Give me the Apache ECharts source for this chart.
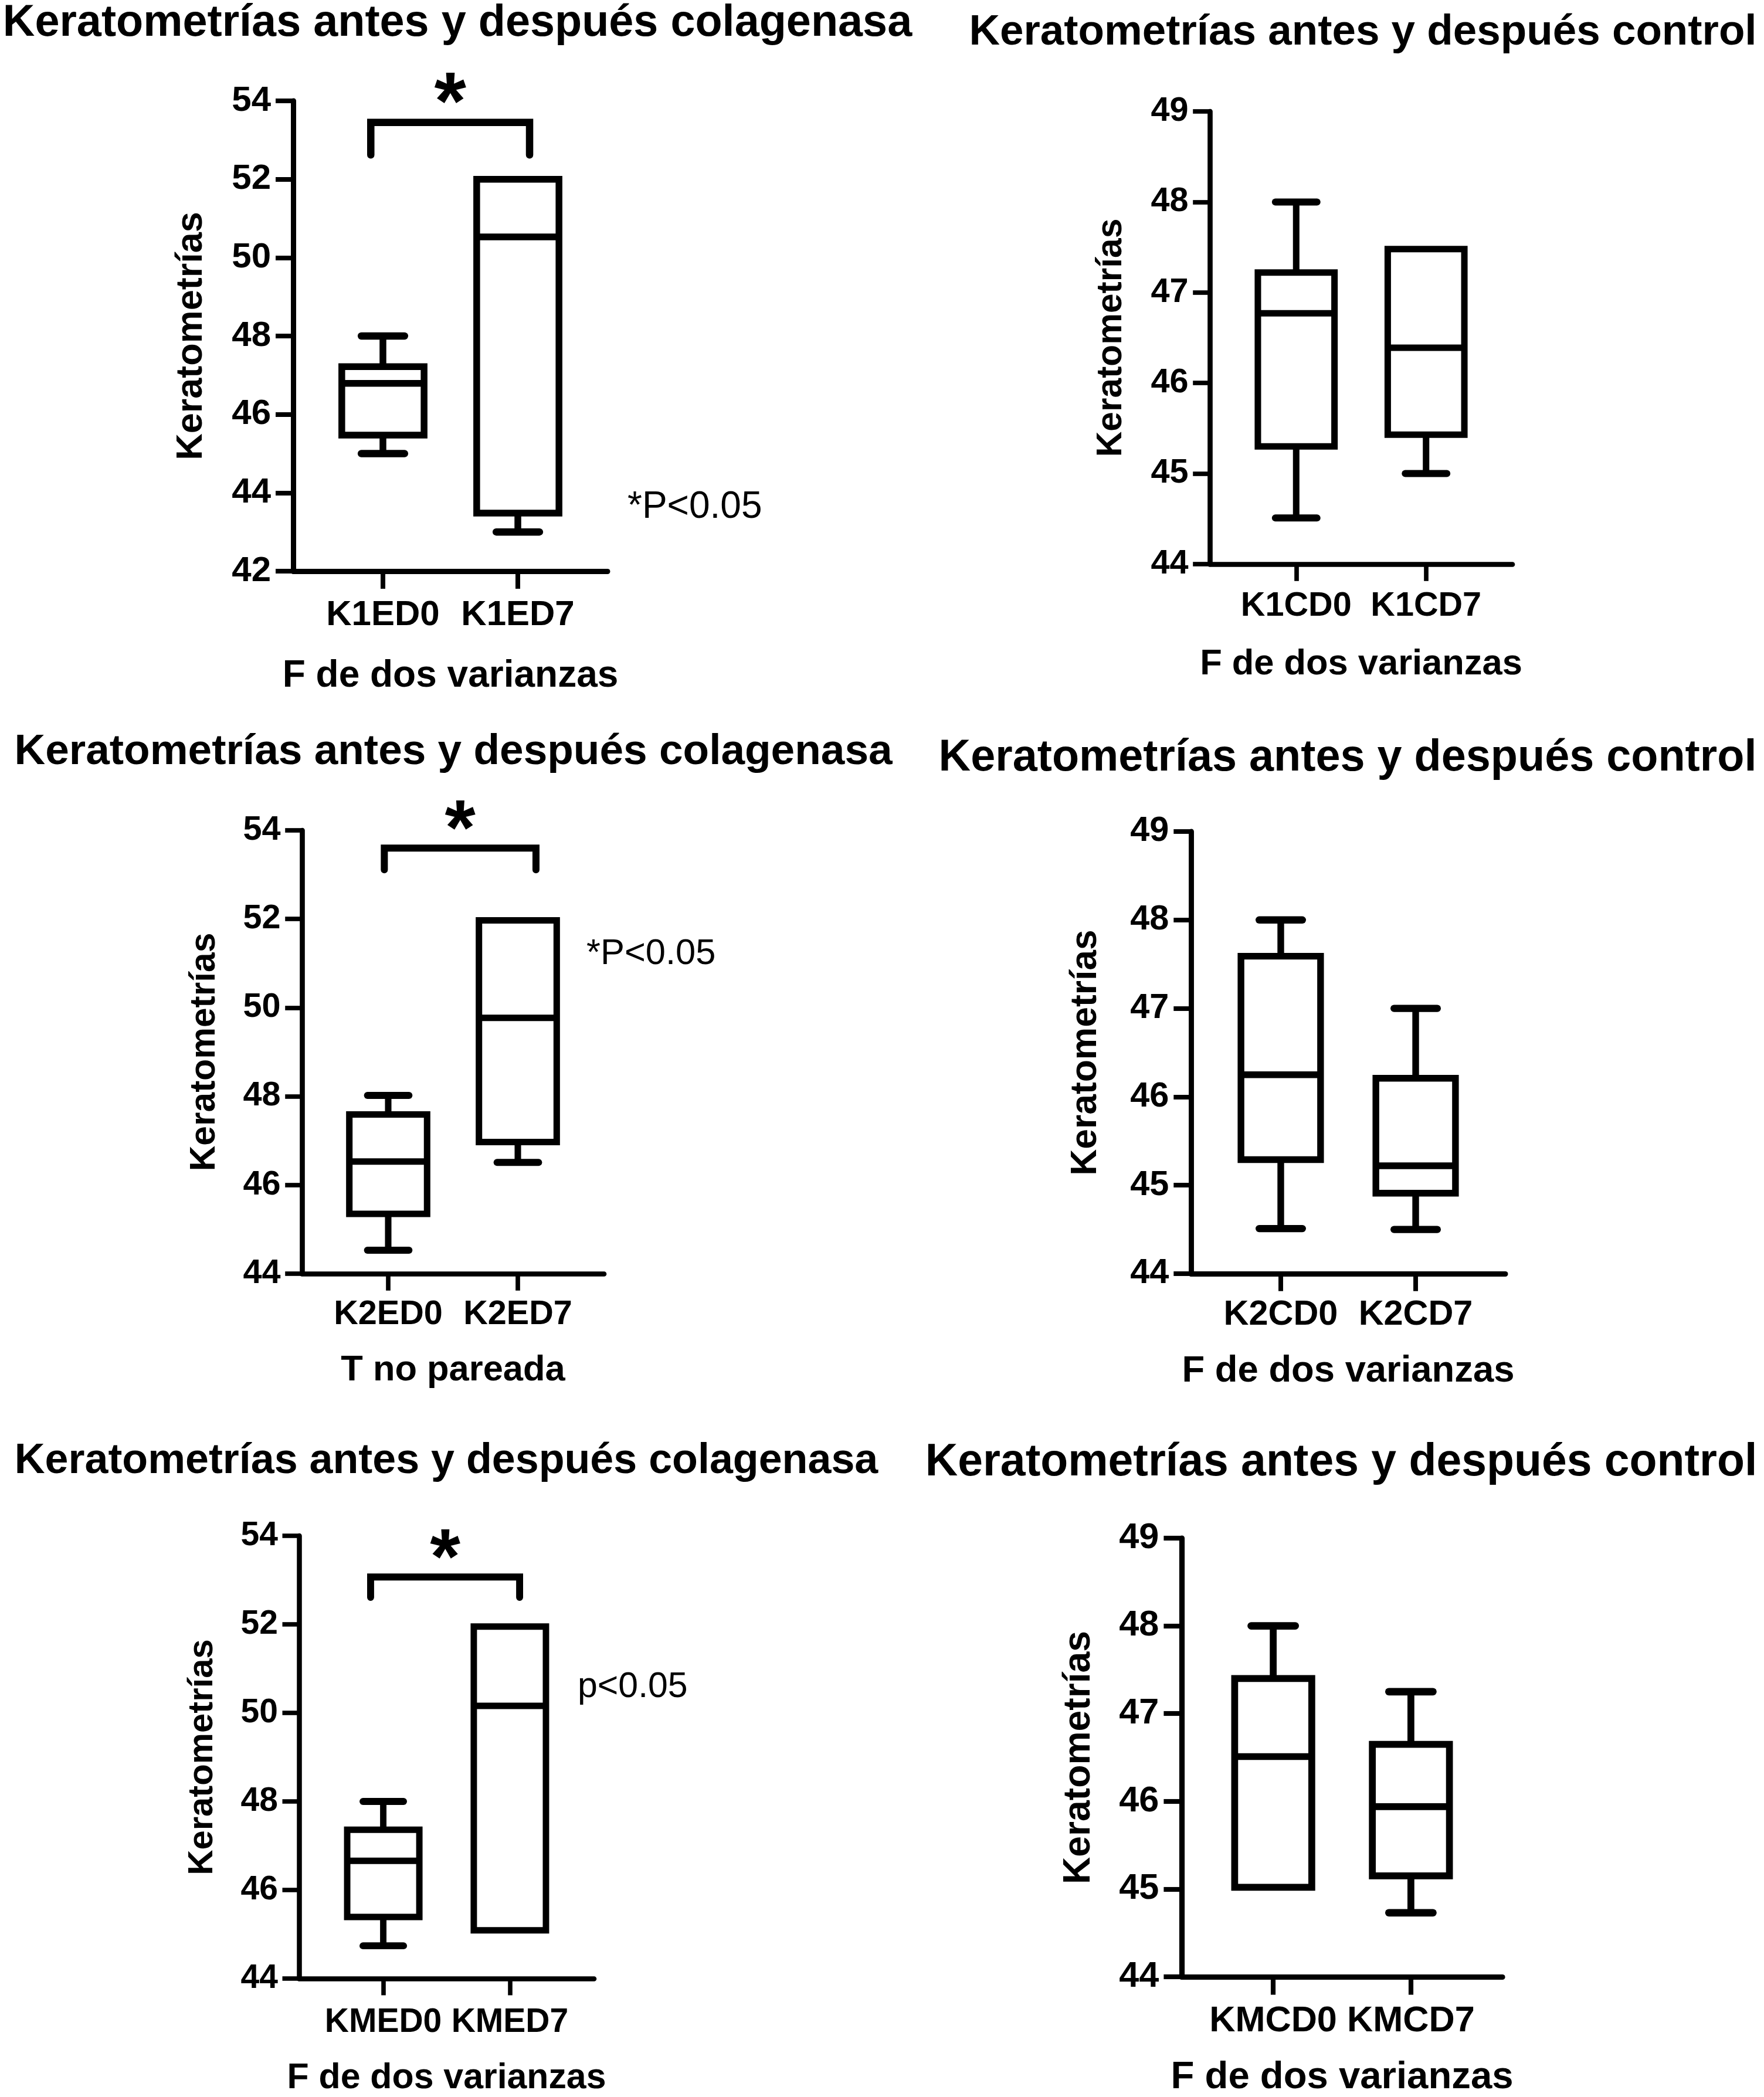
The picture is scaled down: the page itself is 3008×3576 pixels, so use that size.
<!DOCTYPE html>
<html>
<head>
<meta charset="utf-8">
<script src="https://cdn.jsdelivr.net/npm/echarts@6/dist/echarts.min.js"></script>
<style>html,body{margin:0;padding:0;background:#fff}#chart{width:3008px;height:3576px}</style>
</head>
<body>
<div id="chart"></div>
<script>
// ---------- DATA ----------
const titles = [
  'Keratometrías antes y después colagenasa',
  'Keratometrías antes y después control',
  'Keratometrías antes y después colagenasa',
  'Keratometrías antes y después control',
  'Keratometrías antes y después colagenasa',
  'Keratometrías antes y después control'
];
const yAxisTitle = 'Keratometrías';
const testNames = ['F de dos varianzas', 'F de dos varianzas', 'T no pareada', 'F de dos varianzas', 'F de dos varianzas', 'F de dos varianzas'];

const catK1E = ['K1ED0', 'K1ED7'];
const catK1C = ['K1CD0', 'K1CD7'];
const catK2E = ['K2ED0', 'K2ED7'];
const catK2C = ['K2CD0', 'K2CD7'];
const catKME = ['KMED0', 'KMED7'];
const catKMC = ['KMCD0', 'KMCD7'];

// [min, Q1, median, Q3, max]
const boxK1E = [[45.0, 45.47, 46.79, 47.22, 48.0], [43.0, 43.48, 50.53, 52.0, 52.0]];
const boxK1C = [[44.51, 45.30, 46.77, 47.22, 48.0], [45.0, 45.43, 46.39, 47.48, 47.48]];
const boxK2E = [[44.53, 45.35, 46.53, 47.59, 48.02], [46.51, 46.97, 49.77, 51.97, 51.97]];
const boxK2C = [[44.51, 45.29, 46.25, 47.59, 48.0], [44.5, 44.91, 45.22, 46.21, 47.0]];
const boxKME = [[44.74, 45.39, 46.66, 47.36, 48.0], [45.09, 45.09, 50.16, 51.95, 51.95]];
const boxKMC = [[45.02, 45.02, 46.51, 47.40, 48.0], [44.73, 45.15, 45.94, 46.65, 47.25]];

// y axis ranges [min, max, interval] (tick labels 42..54, 44..54, 44..49)
const yRangeE1 = [42, 54, 2];
const yRangeE = [44, 54, 2];
const yRangeC = [44, 49, 1];

// significance brackets [xLeft, xRight, yBar, yEnd] in data units, and notes
const bracketK1E = [[-0.09, 1.087, 53.45, 52.62]];
const bracketK2E = [[-0.03, 1.14, 53.6, 53.11]];
const bracketKME = [[-0.10, 1.077, 53.07, 52.61]];
const pNotes = ['*P<0.05', null, '*P<0.05', null, 'p<0.05', null];

// ---------- LAYOUT / STYLE ----------
const FF = '"Liberation Sans", Arial, Helvetica, sans-serif';
const panels = [
  {cats: catK1E, boxes: boxK1E, yr: yRangeE1, br: bracketK1E,
   grid: {left: 500, top: 172, width: 536, height: 802}, s: 1.0, boxHalf: 0.305,
   title: {cx: 780, base: 62, fs: 75.6}, lm: 45, ng: 147, yng: 142, note: {x: 1070, y: 865}},
  {cats: catK1C, boxes: boxK1C, yr: yRangeC, br: null,
   grid: {left: 2063, top: 190, width: 516, height: 772}, s: 0.96, boxHalf: 0.295,
   title: {cx: 2324, base: 76.5, fs: 72.8}, lm: 43, ng: 141, yng: 138},
  {cats: catK2E, boxes: boxK2E, yr: yRangeE, br: bracketK2E,
   grid: {left: 515, top: 1416, width: 515, height: 756}, s: 0.96, boxHalf: 0.30,
   title: {cx: 773, base: 1303, fs: 73}, lm: 41, ng: 135, yng: 136, note: {x: 1000, y: 1627}},
  {cats: catK2C, boxes: boxK2C, yr: yRangeC, br: null,
   grid: {left: 2031, top: 1418, width: 536, height: 754}, s: 0.99, boxHalf: 0.295,
   title: {cx: 2298, base: 1315, fs: 75.6}, lm: 41, ng: 135, yng: 148},
  {cats: catKME, boxes: boxKME, yr: yRangeE, br: bracketKME,
   grid: {left: 510, top: 2619, width: 503, height: 758}, s: 0.95, boxHalf: 0.285,
   title: {cx: 761, base: 2512, fs: 71.8}, lm: 47, ng: 140, yng: 135, note: {x: 985, y: 2877}},
  {cats: catKMC, boxes: boxKMC, yr: yRangeC, br: null,
   grid: {left: 2015, top: 2623, width: 547, height: 755}, s: 1.02, boxHalf: 0.28,
   title: {cx: 2287, base: 2517, fs: 76.9}, lm: 46, ng: 139, yng: 143}
];

function boxRender(P) {
  return function (params, api) {
    const x = api.value(0);
    const mn = api.value(1), q1 = api.value(2), md = api.value(3), q3 = api.value(4), mx = api.value(5);
    const s = P.s, hw = P.boxHalf, ch = 0.16;
    const lw = 11.5 * s;
    const tl = api.coord([x - hw, q3]);
    const br = api.coord([x + hw, q1]);
    const mL = api.coord([x - hw, md]);
    const mR = api.coord([x + hw, md]);
    const line = (a, b, w, cap) => ({type: 'line', shape: {x1: a[0], y1: a[1], x2: b[0], y2: b[1]},
      style: {stroke: '#000', lineWidth: w, lineCap: cap || 'butt', fill: 'none'}});
    const kids = [];
    if (mx > q3) {
      kids.push(line(api.coord([x, q3]), api.coord([x, mx]), lw));
      kids.push(line(api.coord([x - ch, mx]), api.coord([x + ch, mx]), 12.5 * s, 'round'));
    }
    if (mn < q1) {
      kids.push(line(api.coord([x, q1]), api.coord([x, mn]), lw));
      kids.push(line(api.coord([x - ch, mn]), api.coord([x + ch, mn]), 12.5 * s, 'round'));
    }
    kids.push({type: 'rect', shape: {x: tl[0], y: tl[1], width: br[0] - tl[0], height: br[1] - tl[1]},
      style: {stroke: '#000', lineWidth: lw, fill: 'none', lineJoin: 'miter'}});
    kids.push(line(mL, mR, lw));
    return {type: 'group', children: kids};
  };
}

function bracketRender(P) {
  return function (params, api) {
    const s = P.s;
    const xl = api.value(0), xr = api.value(1), yb = api.value(2), ye = api.value(3);
    const a = api.coord([xl, ye]), b = api.coord([xl, yb]), c = api.coord([xr, yb]), d = api.coord([xr, ye]);
    const fs = 140 * s;
    return {type: 'group', children: [
      {type: 'polyline', shape: {points: [a, b, c, d]},
       style: {stroke: '#000', lineWidth: 12.5 * s, lineCap: 'round', lineJoin: 'miter', fill: 'none'}},
      {type: 'text', x: (b[0] + c[0]) / 2, y: b[1] - 57 * s + 0.21 * fs,
       style: {text: '*', fontSize: fs, fontWeight: 'bold', fontFamily: FF, fill: '#000',
               align: 'center', verticalAlign: 'middle'}}
    ]};
  };
}

const grids = [], xAxes = [], yAxes = [], series = [], graphics = [];
panels.forEach((P, i) => {
  const s = P.s;
  grids.push(Object.assign({containLabel: false}, P.grid));
  xAxes.push({
    gridIndex: i, type: 'value', min: -0.665, max: 1.665,
    axisLine: {show: true, onZero: false, lineStyle: {color: '#000', width: 9 * s}},
    axisTick: {show: true, customValues: [0, 1], length: 30 * s, lineStyle: {color: '#000', width: 8 * s}},
    axisLabel: {show: true, customValues: [0, 1], formatter: v => P.cats[Math.round(v)] || '',
      fontSize: 60 * s, fontWeight: 'bold', fontFamily: FF, color: '#000', margin: P.lm},
    splitLine: {show: false},
    name: testNames[i], nameLocation: 'middle', nameGap: P.ng,
    nameTextStyle: {fontSize: 64 * s, fontWeight: 'bold', fontFamily: FF, color: '#000'}
  });
  yAxes.push({
    gridIndex: i, type: 'value', min: P.yr[0], max: P.yr[1], interval: P.yr[2],
    axisLine: {show: true, onZero: false, lineStyle: {color: '#000', width: 9 * s}},
    axisTick: {show: true, length: 30 * s, lineStyle: {color: '#000', width: 8 * s}},
    axisLabel: {fontSize: 60 * s, fontWeight: 'bold', fontFamily: FF, color: '#000', margin: 38 * s},
    splitLine: {show: false},
    name: yAxisTitle, nameLocation: 'middle', nameGap: P.yng,
    nameTextStyle: {fontSize: 63 * s, fontWeight: 'bold', fontFamily: FF, color: '#000'}
  });
  series.push({
    type: 'custom', xAxisIndex: i, yAxisIndex: i, clip: false,
    data: P.boxes.map((b, j) => [j].concat(b)),
    renderItem: boxRender(P), z: 5
  });
  if (P.br) {
    series.push({
      type: 'custom', xAxisIndex: i, yAxisIndex: i, clip: false,
      data: P.br, renderItem: bracketRender(P), z: 6
    });
  }
  graphics.push({
    type: 'text', x: P.title.cx, y: P.title.base - 0.35 * P.title.fs + 5,
    style: {text: titles[i], fontSize: P.title.fs, fontWeight: 'bold', fontFamily: FF, fill: '#000',
            align: 'center', verticalAlign: 'middle'}
  });
  if (pNotes[i]) {
    graphics.push({
      type: 'text', x: P.note.x, y: P.note.y,
      style: {text: pNotes[i], fontSize: 64 * s, fontWeight: 'normal', fontFamily: FF, fill: '#000',
              align: 'left', verticalAlign: 'middle'}
    });
  }
});

const chart = echarts.init(document.getElementById('chart'), null, {renderer: 'canvas'});
chart.setOption({
  backgroundColor: '#fff',
  animation: false,
  grid: grids, xAxis: xAxes, yAxis: yAxes, series: series, graphic: graphics
});
</script>
</body>
</html>
